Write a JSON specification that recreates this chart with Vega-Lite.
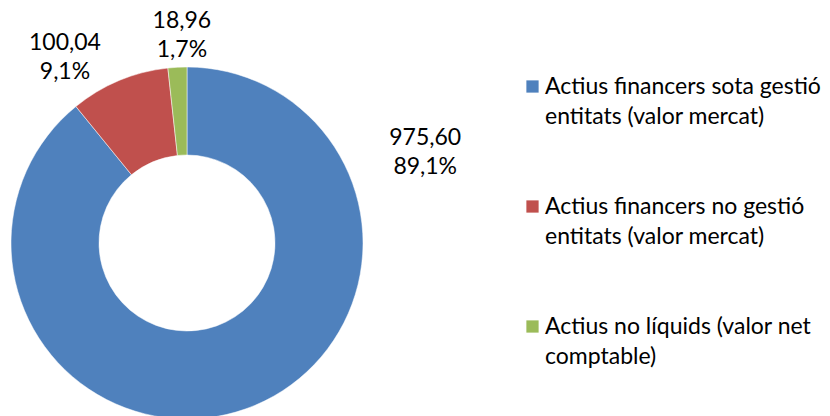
{
  "$schema": "https://vega.github.io/schema/vega-lite/v6.json",
  "width": 374,
  "height": 486,
  "padding": 0,
  "autosize": {"type": "pad"},
  "background": "white",
  "config": {"view": {"stroke": null}, "style": {"guide-label": {"lineHeight": 30}}},
  "data": {
    "values": [
      {"cat": "Actius financers sota gestió entitats (valor mercat)", "idx": 1, "valor": 975.60, "etiqueta": ["975,60", "89,1%"]},
      {"cat": "Actius financers no gestió entitats (valor mercat)", "idx": 2, "valor": 100.04, "etiqueta": ["100,04", "9,1%"]},
      {"cat": "Actius no líquids (valor net comptable)", "idx": 3, "valor": 18.96, "etiqueta": ["18,96", "1,7%"]}
    ]
  },
  "encoding": {
    "theta": {"field": "valor", "type": "quantitative", "stack": true},
    "order": {"field": "idx", "type": "quantitative"}
  },
  "layer": [
    {
      "mark": {"type": "arc", "outerRadius": 176, "innerRadius": 88, "stroke": "white", "strokeWidth": 0.5},
      "encoding": {
        "color": {
          "field": "cat",
          "type": "nominal",
          "scale": {
            "domain": ["Actius financers sota gestió entitats (valor mercat)", "Actius financers no gestió entitats (valor mercat)", "Actius no líquids (valor net comptable)"],
            "range": ["#4F81BD", "#C0504D", "#9BBB59"]
          },
          "legend": {
            "title": null,
            "orient": "none",
            "legendX": 521,
            "legendY": 75,
            "padding": 0,
            "symbolType": "square",
            "symbolSize": 150,
            "symbolStrokeWidth": 0,
            "labelFont": "Lato",
            "labelFontSize": 23,
            "labelColor": "black",
            "labelLimit": 400,
            "labelOffset": 1,
            "labelBaseline": "middle",
            "rowPadding": 66,
            "labelExpr": "datum.label == 'Actius financers sota gestió entitats (valor mercat)' ? ['Actius financers sota gestió', 'entitats (valor mercat)'] : datum.label == 'Actius financers no gestió entitats (valor mercat)' ? ['Actius financers no gestió', 'entitats (valor mercat)'] : ['Actius no líquids (valor net', 'comptable)']",
            "encode": {"labels": {"update": {"lineHeight": {"value": 30}}}}
          }
        }
      }
    },
    {
      "mark": {
        "type": "text",
        "font": "Lato",
        "fontSize": 23,
        "color": "black",
        "lineHeight": 29,
        "align": "center",
        "baseline": "middle",
        "dy": -14.5,
        "radius": {"expr": "datum.idx == 1 ? 255 : datum.idx == 2 ? 222 : 208"},
        "thetaOffset": {"expr": "datum.idx == 1 ? -1.594 : datum.idx == 2 ? -0.186 : 0.030"}
      },
      "encoding": {
        "detail": {"field": "cat", "type": "nominal"},
        "text": {"field": "etiqueta"}
      }
    }
  ]
}
